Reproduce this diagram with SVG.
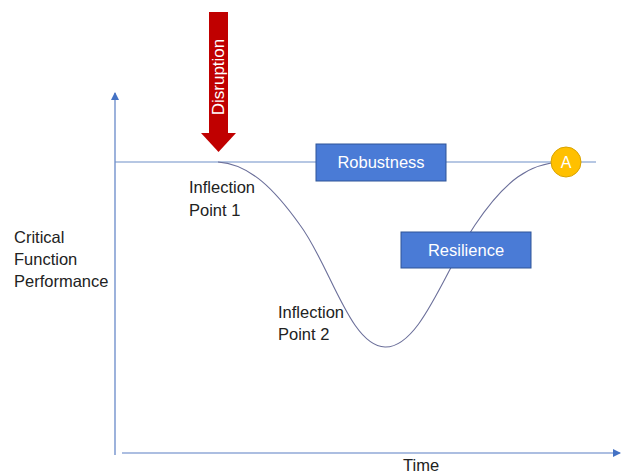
<svg xmlns="http://www.w3.org/2000/svg" width="623" height="474" viewBox="0 0 623 474">
<style>
.t{font-family:"Liberation Sans",Arial,sans-serif;font-size:16.5px;fill:#222}
.bt{font-family:"Liberation Sans",Arial,sans-serif;font-size:16px;fill:#fff;text-anchor:middle}
.box{fill:#4a7bd6;stroke:#2f5597;stroke-width:1}
.ax{stroke:#5b7fc4;stroke-width:1.2;fill:none}
</style>
<defs>
<marker id="ah" markerWidth="8" markerHeight="8" refX="7" refY="4" orient="auto" markerUnits="userSpaceOnUse">
<path d="M0,0 L8,4 L0,8 Z" fill="#4472c4"/>
</marker>
</defs>
<rect width="623" height="474" fill="#fff"/>
<g id="connectors">
<line class="ax" x1="115" y1="455" x2="115" y2="93" marker-end="url(#ah)"/>
<line class="ax" x1="122" y1="453" x2="620" y2="453" marker-end="url(#ah)"/>
<line x1="115" y1="162" x2="596" y2="162" stroke="#6f8fc8" stroke-width="1.2"/>
<path d="M218,162 C250,164 275,190 300,225 C330,265 350,346 385,347 C420,348 445,270 475,225 C505,180 530,163 562,162" fill="none" stroke="#6b6f9a" stroke-width="1.1"/>
</g>
<g id="disruption">
<rect x="209" y="12" width="19" height="122" fill="#c00000"/>
<polygon points="201,133 236,133 218.5,152" fill="#c00000"/>
<text class="bt" transform="translate(224,77) rotate(-90)" style="font-size:17px">Disruption</text>
</g>
<g id="robustness">
<rect class="box" x="316" y="144" width="130" height="37"/>
<text class="bt" x="381" y="168" style="font-size:16.5px">Robustness</text>
</g>
<g id="resilience">
<rect class="box" x="401" y="232" width="130" height="36"/>
<text class="bt" x="466" y="256" style="font-size:16.5px">Resilience</text>
</g>
<g id="pointA">
<circle cx="566" cy="162" r="15" fill="#ffc000" stroke="#d9a300" stroke-width="1"/>
<text class="bt" x="566" y="168">A</text>
</g>
<g id="labels">
<text class="t" x="189" y="193">Inflection</text>
<text class="t" x="189" y="216">Point 1</text>
<text class="t" x="14" y="243">Critical</text>
<text class="t" x="14" y="265">Function</text>
<text class="t" x="14" y="287">Performance</text>
<text class="t" x="278" y="318">Inflection</text>
<text class="t" x="278" y="340">Point 2</text>
<text class="t" x="403" y="471">Time</text>
</g>
</svg>
